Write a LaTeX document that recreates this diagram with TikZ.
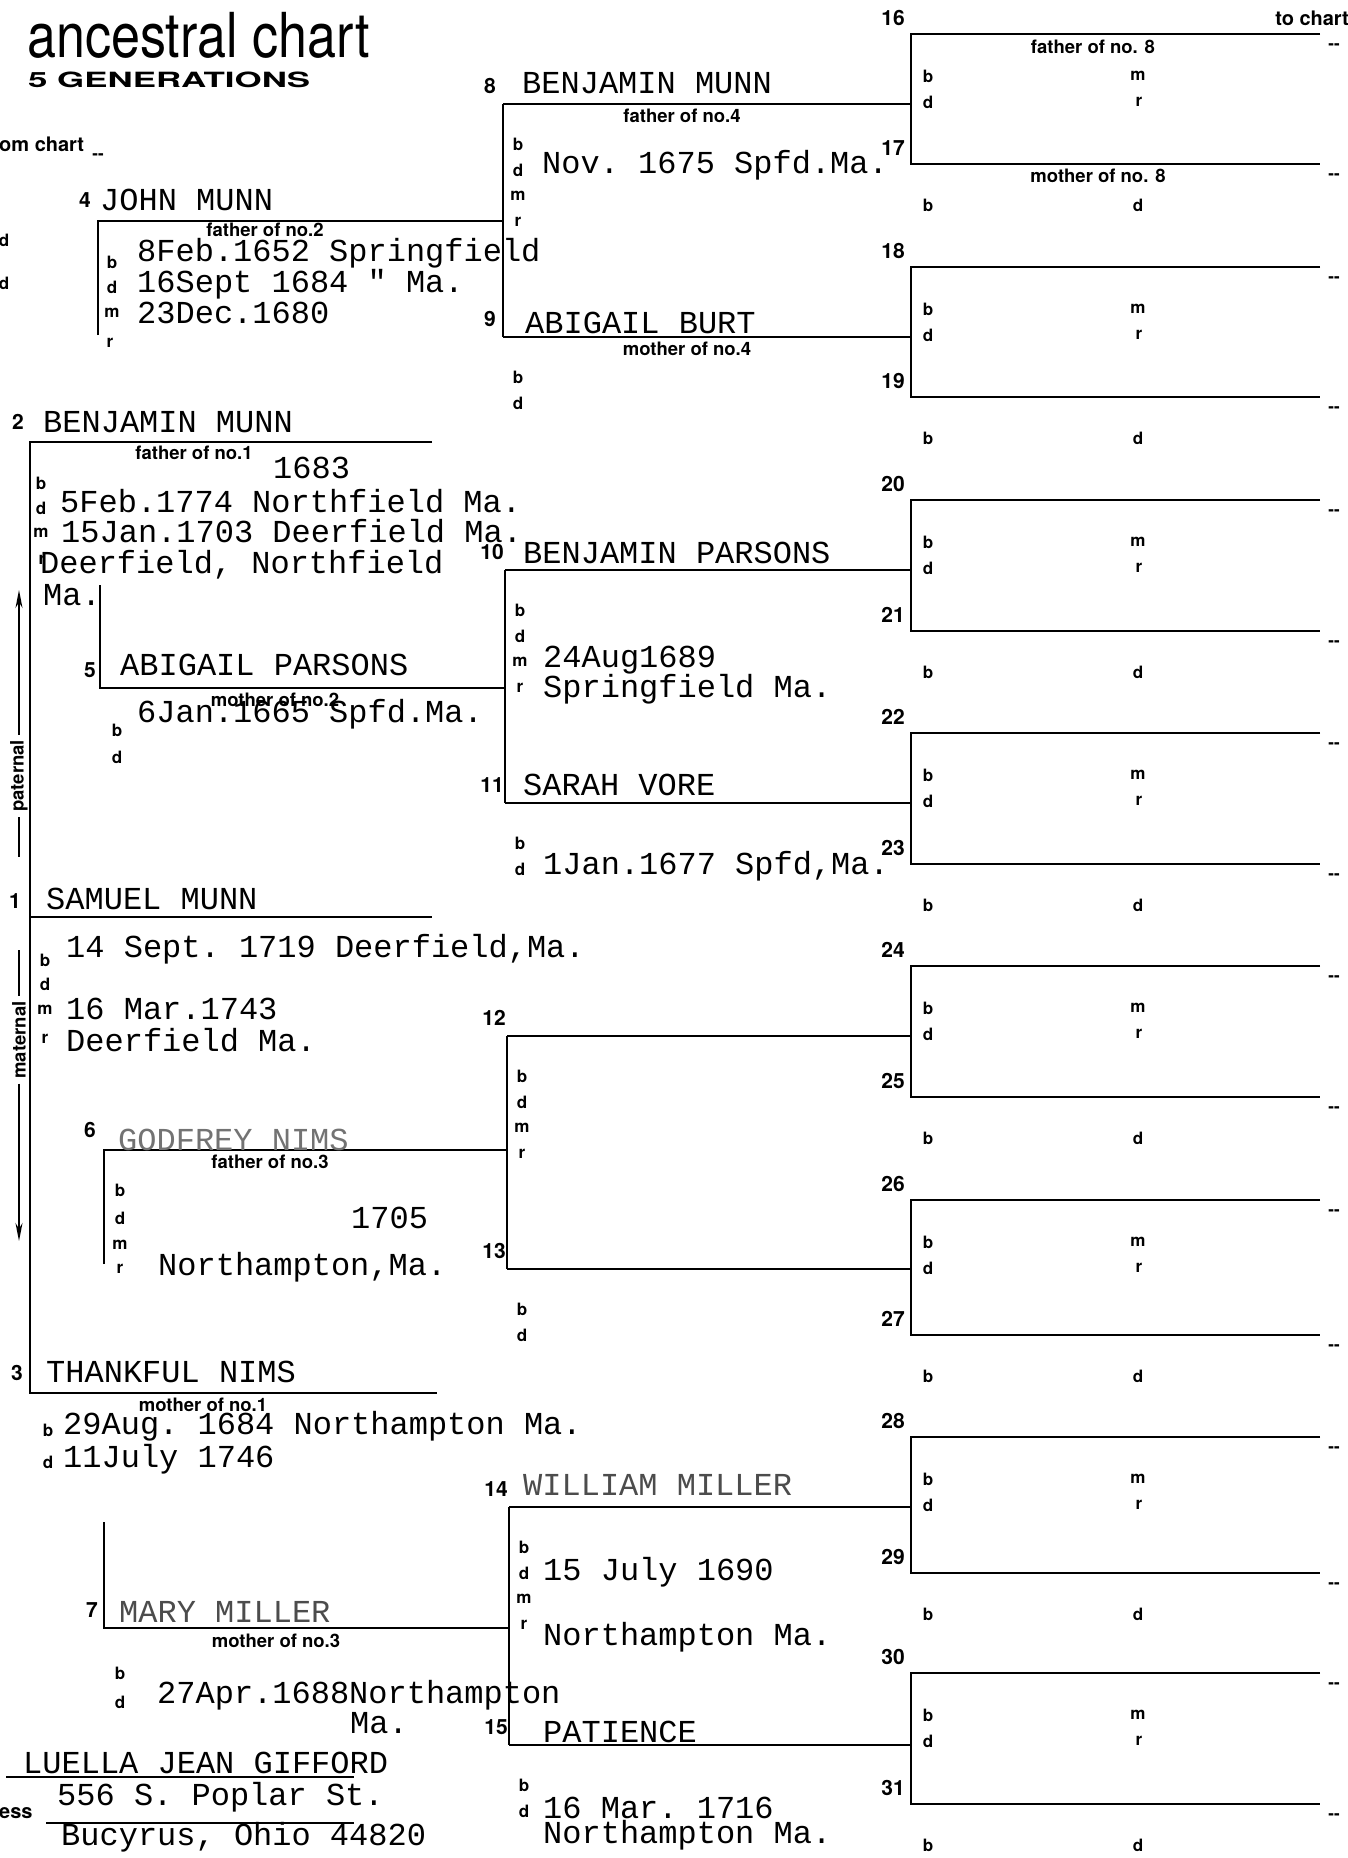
\documentclass[tikz,border=0pt]{standalone}
\usepackage{fontspec}
\usetikzlibrary{arrows.meta}
\newfontfamily\formfont{TeX Gyre Heros}
\newfontfamily\typefont[WordSpace={1,0,0},PunctuationSpace=WordSpace]{Liberation Mono}

\tikzset{
  rule/.style={line width=1.8pt},
  thinrule/.style={line width=1.2pt},
  typed/.style={font=\typefont\fontsize{32}{32}\selectfont, anchor=base west, inner sep=0pt},
  faded/.style={typed, text=black!70},
  fieldkey/.style={font=\formfont\bfseries\fontsize{17}{17}\selectfont, inner sep=0pt},
  gennum/.style={font=\formfont\bfseries\fontsize{21}{21}\selectfont, inner sep=0pt},
  rellab/.style={font=\formfont\bfseries\fontsize{18.5}{18.5}\selectfont, inner sep=0pt},
  side/.style={rellab, rotate=90, inner sep=5pt},
  axisline/.style={line width=1.8pt},
}

\begin{document}
\begin{tikzpicture}[x=1pt,y=-1pt]
  \useasboundingbox (0,0) rectangle (1347,1858);
  \fill[white] (0,0) rectangle (1347,1858);

  % heading
  \node[font=\formfont\fontsize{62}{62}\selectfont, anchor=base west, inner sep=0pt] (title) at (27,57) {\scalebox{0.84}[1]{ancestral chart}};
  \node[font=\formfont\bfseries\fontsize{21}{21}\selectfont, anchor=base west, inner sep=0pt] (gens) at (28,87) {\scalebox{1.66}[1]{5 GENERATIONS}};
  \node[font=\formfont\bfseries\fontsize{20}{20}\selectfont, anchor=base west, inner sep=0pt] (fromchart) at (-1,151) {om chart};
  \node[fieldkey] (fromdash) at (98,157) {-{}-};
  \node[fieldkey] (dleft1) at (4,240) {d};
  \node[fieldkey] (dleft2) at (4,283) {d};
  \node[font=\formfont\bfseries\fontsize{20}{20}\selectfont, anchor=base east, inner sep=0pt] (tochart) at (1349,25) {to chart};

  % generations 4 and 5
  \foreach \k/\T/\B/\L in {0/34/164/104, 1/267/397/337, 2/500/631/570, 3/733/864/803,
                           4/966/1097/1036, 5/1200/1335/1269, 6/1437/1573/1507, 7/1673/1804/1745}{
    \pgfmathtruncatemacro\fa{16+2*\k}
    \pgfmathtruncatemacro\mo{17+2*\k}
    \pgfmathtruncatemacro\p{8+\k}
    \pgfmathtruncatemacro\bx{503+2*floor(\k/2)}
    \coordinate (s\fa) at (911,\T);
    \coordinate (e\fa) at (1320,\T);
    \coordinate (s\mo) at (911,\B);
    \coordinate (e\mo) at (1320,\B);
    \coordinate (j\p) at (911,\L);
    \coordinate (i\p) at (\bx,\L);
    \draw[rule] (e\fa) -- (s\fa) -- (s\mo) -- (e\mo);
    \draw[rule] (i\p) -- (j\p);
    \node[gennum] (n\fa) at (893,\T-16) {\fa};
    \node[gennum] (n\mo) at (893,\B-16) {\mo};
    \node[fieldkey] (b\fa) at (928,\T+42) {b};
    \node[fieldkey] (d\fa) at (928,\T+68) {d};
    \node[fieldkey] (m\fa) at (1138,\T+42) {m};
    \node[fieldkey] (r\fa) at (1139,\T+68) {r};
    \node[fieldkey] (b\mo) at (928,\B+41) {b};
    \node[fieldkey] (d\mo) at (1138,\B+41) {d};
    \node[fieldkey] (x\fa) at (1334,\T+13) {-{}-};
    \node[fieldkey] (x\mo) at (1334,\B+13) {-{}-};
    \node[gennum] (n\p) at (\bx-13,\L-18) {\p};
    \ifodd\k
      \node[fieldkey] (b\p) at (\bx+15,\L+40) {b};
      \node[fieldkey] (d\p) at (\bx+15,\L+66) {d};
    \else
      \node[fieldkey] (b\p) at (\bx+15,\L+40) {b};
      \node[fieldkey] (d\p) at (\bx+15,\L+66) {d};
      \node[fieldkey] (m\p) at (\bx+15,\L+92) {m};
      \node[fieldkey] (r\p) at (\bx+15,\L+118) {r};
    \fi
  }
  \node[rellab] (rel16) at (1093,47) {father of no. 8};
  \node[rellab] (rel17) at (1098,176) {mother of no. 8};

  % brackets of generation 3
  \draw[rule] (i8) -- (i9);
  \draw[rule] (i10) -- (i11);
  \draw[rule] (i12) -- (i13);
  \draw[rule] (i14) -- (i15);

  \coordinate (h4) at (98,221);   \coordinate (k4) at (503,221);
  \coordinate (h5) at (100,688);  \coordinate (k5) at (505,688);
  \coordinate (h6) at (104,1150); \coordinate (k6) at (507,1150);
  \coordinate (h7) at (104,1628); \coordinate (k7) at (509,1628);
  \coordinate (t4) at (98,335);
  \coordinate (t5) at (100,585);
  \coordinate (t6) at (104,1264);
  \coordinate (t7) at (104,1522);
  \draw[rule] (t4) -- (h4) -- (k4);
  \draw[rule] (t5) -- (h5) -- (k5);
  \draw[rule] (t6) -- (h6) -- (k6);
  \draw[rule] (t7) -- (h7) -- (k7);

  % generations 1 and 2
  \coordinate (a2) at (30,442);  \coordinate (z2) at (432,442);
  \coordinate (a1) at (30,917);  \coordinate (z1) at (432,917);
  \coordinate (a3) at (30,1393); \coordinate (z3) at (437,1393);
  \draw[rule] (z2) -- (a2) -- (a3) -- (z3);
  \draw[rule] (a1) -- (z1);

  % paternal / maternal
  \coordinate (patTip) at (19,590);
  \coordinate (patFoot) at (19,857);
  \node[side] (pat) at (19,776) {paternal};
  \draw[axisline,-{Stealth[length=18pt,width=7pt]}] (pat.east) -- (patTip);
  \draw[axisline] (pat.west) -- (patFoot);
  \coordinate (matHead) at (19,950);
  \coordinate (matTip) at (19,1241);
  \node[side] (mat) at (19,1040) {maternal};
  \draw[axisline] (matHead) -- (mat.east);
  \draw[axisline,-{Stealth[length=18pt,width=7pt]}] (mat.west) -- (matTip);

  % person 1
  \node[gennum] (n1) at (15,901) {1};
  \node[typed] (name1) at (46,909) {SAMUEL MUNN};
  \node[fieldkey] (b1) at (45,960) {b};
  \node[fieldkey] (d1) at (45,984) {d};
  \node[fieldkey] (m1) at (45,1010) {m};
  \node[fieldkey] (r1) at (45,1039) {r};
  \node[typed] (born1) at (66,957) {14 Sept. 1719 Deerfield,Ma.};
  \node[typed] (wed1) at (66,1019) {16 Mar.1743};
  \node[typed] (res1) at (66,1051) {Deerfield Ma.};

  % person 2
  \node[gennum] (n2) at (18,422) {2};
  \node[typed] (name2) at (43,432) {BENJAMIN MUNN};
  \node[rellab] (rel2) at (194,453) {father of no.1};
  \node[typed] (yr2) at (273,478) {1683};
  \node[fieldkey] (b2) at (41,483) {b};
  \node[fieldkey] (d2) at (41,508) {d};
  \node[fieldkey] (m2) at (41,533) {m};
  \node[fieldkey] (r2) at (42,560) {r};
  \node[typed] (died2) at (60,512) {5Feb.1774 Northfield Ma.};
  \node[typed] (wed2) at (61,542) {15Jan.1703 Deerfield Ma.};
  \node[typed] (res2) at (40,573) {Deerfield, Northfield};
  \node[typed] (res2b) at (43,605) {Ma.};

  % person 3
  \node[gennum] (n3) at (17,1373) {3};
  \node[typed] (name3) at (46,1382) {THANKFUL NIMS};
  \node[rellab] (rel3) at (203,1405) {mother of no.1};
  \node[fieldkey] (b3) at (48,1430) {b};
  \node[fieldkey] (d3) at (48,1462) {d};
  \node[typed] (born3) at (63,1434) {29Aug. 1684 Northampton Ma.};
  \node[typed] (died3) at (63,1467) {11July 1746};

  % person 4
  \node[gennum] (n4) at (85,200) {4};
  \node[typed] (name4) at (100,210) {JOHN MUNN};
  \node[rellab] (rel4) at (265,230) {father of no.2};
  \node[fieldkey] (b4) at (112,262) {b};
  \node[fieldkey] (d4) at (112,287) {d};
  \node[fieldkey] (m4) at (112,313) {m};
  \node[fieldkey] (r4) at (110,343) {r};
  \node[typed] (born4) at (137,261) {8Feb.1652 Springfield};
  \node[typed] (died4) at (137,292) {16Sept 1684 " Ma.};
  \node[typed] (wed4) at (137,323) {23Dec.1680};

  % person 5
  \node[gennum] (n5) at (90,670) {5};
  \node[typed] (name5) at (120,675) {ABIGAIL PARSONS};
  \node[rellab] (rel5) at (275,700) {mother of no.2};
  \node[typed] (born5) at (137,722) {6Jan.1665 Spfd.Ma.};
  \node[fieldkey] (b5) at (117,730) {b};
  \node[fieldkey] (d5) at (117,757) {d};

  % person 6
  \node[gennum] (n6) at (90,1130) {6};
  \node[typed, text=black!55] (name6) at (118,1150) {GODFREY NIMS};
  \node[rellab] (rel6) at (270,1162) {father of no.3};
  \node[fieldkey] (b6) at (120,1190) {b};
  \node[fieldkey] (d6) at (120,1218) {d};
  \node[fieldkey] (m6) at (120,1245) {m};
  \node[fieldkey] (r6) at (120,1269) {r};
  \node[typed] (yr6) at (351,1228) {1705};
  \node[typed] (res6) at (158,1275) {Northampton,Ma.};

  % person 7
  \node[gennum] (n7) at (92,1610) {7};
  \node[faded] (name7) at (119,1622) {MARY MILLER};
  \node[rellab] (rel7) at (276,1641) {mother of no.3};
  \node[fieldkey] (b7) at (120,1673) {b};
  \node[fieldkey] (d7) at (120,1702) {d};
  \node[typed] (died7) at (157,1703) {27Apr.1688Northampton};
  \node[typed] (died7b) at (350,1733) {Ma.};

  % generation 4 entries
  \node[typed] (name8) at (522,93) {BENJAMIN MUNN};
  \node[rellab] (rel8) at (682,116) {father of no.4};
  \node[typed] (died8) at (542,173) {Nov. 1675 Spfd.Ma.};
  \node[typed] (name9) at (525,333) {ABIGAIL BURT};
  \node[rellab] (rel9) at (687,349) {mother of no.4};
  \node[typed] (name10) at (523,563) {BENJAMIN PARSONS};
  \node[typed] (wed10) at (543,667) {24Aug1689};
  \node[typed] (res10) at (543,697) {Springfield Ma.};
  \node[typed] (name11) at (523,795) {SARAH VORE};
  \node[typed] (died11) at (543,874) {1Jan.1677 Spfd,Ma.};
  \node[faded] (name14) at (523,1495) {WILLIAM MILLER};
  \node[typed] (died14) at (543,1580) {15 July 1690};
  \node[typed] (res14) at (543,1645) {Northampton Ma.};
  \node[typed] (name15) at (543,1742) {PATIENCE};
  \node[typed] (died15) at (543,1818) {16 Mar. 1716};
  \node[typed] (died15b) at (543,1843) {Northampton Ma.};

  % compiler
  \node[typed] (compiler) at (23,1773) {LUELLA JEAN GIFFORD};
  \coordinate (u1a) at (6,1777);  \coordinate (u1b) at (354,1777);
  \draw[thinrule] (u1a) -- (u1b);
  \node[typed] (street) at (57,1805) {556 S. Poplar St.};
  \node[font=\formfont\bfseries\fontsize{20}{20}\selectfont, anchor=base west, inner sep=0pt] (address) at (-1,1818) {ess};
  \coordinate (u2a) at (46,1823); \coordinate (u2b) at (354,1823);
  \draw[thinrule] (u2a) -- (u2b);
  \node[typed] (town) at (61,1845) {Bucyrus, Ohio 44820};
\end{tikzpicture}
\end{document}
